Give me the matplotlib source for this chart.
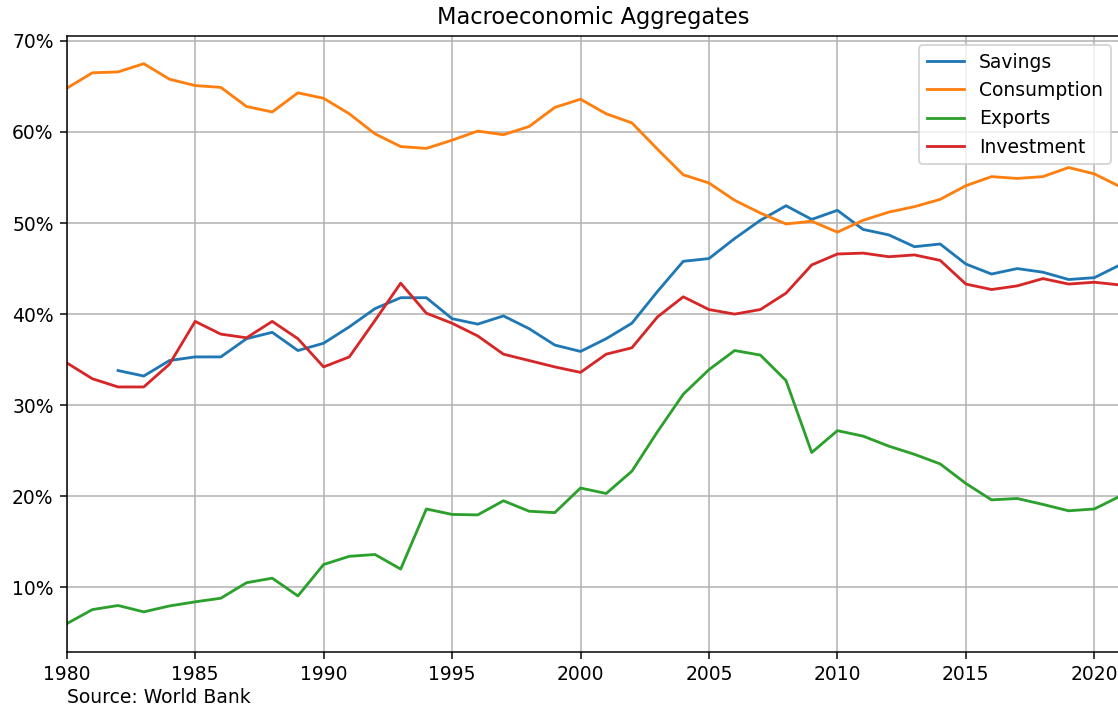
import numpy as np
import matplotlib
matplotlib.use("Agg")
import matplotlib.pyplot as plt
from matplotlib.ticker import PercentFormatter

years = list(range(1980, 2022))

savings = [np.nan, np.nan, 33.8, 33.2, 34.9, 35.3, 35.3, 37.3, 38.0, 36.0,
           36.8, 38.6, 40.6, 41.8, 41.8, 39.5, 38.9, 39.8, 38.4, 36.6,
           35.9, 37.3, 39.0, 42.5, 45.8, 46.1, 48.3, 50.3, 51.9, 50.4,
           51.4, 49.3, 48.7, 47.4, 47.7, 45.5, 44.4, 45.0, 44.6, 43.8,
           44.0, 45.4]

consumption = [64.8, 66.5, 66.6, 67.5, 65.8, 65.1, 64.9, 62.8, 62.2, 64.3,
               63.7, 62.0, 59.8, 58.4, 58.2, 59.1, 60.1, 59.7, 60.6, 62.7,
               63.6, 62.0, 61.0, 58.1, 55.3, 54.4, 52.5, 51.1, 49.9, 50.2,
               49.0, 50.3, 51.2, 51.8, 52.6, 54.1, 55.1, 54.9, 55.1, 56.1,
               55.4, 54.0]

exports = [6.0, 7.55, 8.0, 7.3, 7.95, 8.4, 8.8, 10.5, 11.0, 9.05,
           12.5, 13.4, 13.6, 12.0, 18.6, 18.0, 17.95, 19.5, 18.35, 18.2,
           20.9, 20.3, 22.75, 27.1, 31.2, 33.9, 36.0, 35.5, 32.7, 24.8,
           27.2, 26.6, 25.5, 24.6, 23.55, 21.4, 19.6, 19.75, 19.1, 18.4,
           18.6, 20.0]

investment = [34.65, 32.9, 32.0, 32.0, 34.5, 39.2, 37.8, 37.4, 39.2, 37.3,
              34.2, 35.3, 39.3, 43.4, 40.1, 39.0, 37.6, 35.6, 34.9, 34.2,
              33.6, 35.6, 36.3, 39.7, 41.9, 40.5, 40.0, 40.5, 42.3, 45.4,
              46.6, 46.7, 46.3, 46.5, 45.9, 43.3, 42.7, 43.1, 43.9, 43.3,
              43.5, 43.2]

series_names = ["Savings", "Consumption", "Exports", "Investment"]
series_colors = ["#1f77b4", "#ff7f0e", "#2ca02c", "#d62728"]

dpi = 135
fig = plt.figure(figsize=(1118 / dpi, 710 / dpi), dpi=dpi)
ax = fig.add_axes([66.7 / 1118, 1 - 651.7 / 710, (1120.0 - 66.7) / 1118, (651.7 - 35.7) / 710])

for name, vals, col in zip(series_names, [savings, consumption, exports, investment], series_colors):
    ax.plot(years, vals, label=name, color=col, linewidth=1.5)

ax.set_xlim(1980, 2021)
ax.yaxis.set_major_formatter(PercentFormatter(decimals=0))
ax.grid(True)
ax.legend(loc="upper right")
ax.set_title("Macroeconomic Aggregates")
ax.annotate("Source: World Bank", xy=(0, 0), xycoords="axes fraction",
            xytext=(0.0, -0.075), textcoords="axes fraction", ha="left", va="center")

fig.savefig("out.png", dpi=dpi)
